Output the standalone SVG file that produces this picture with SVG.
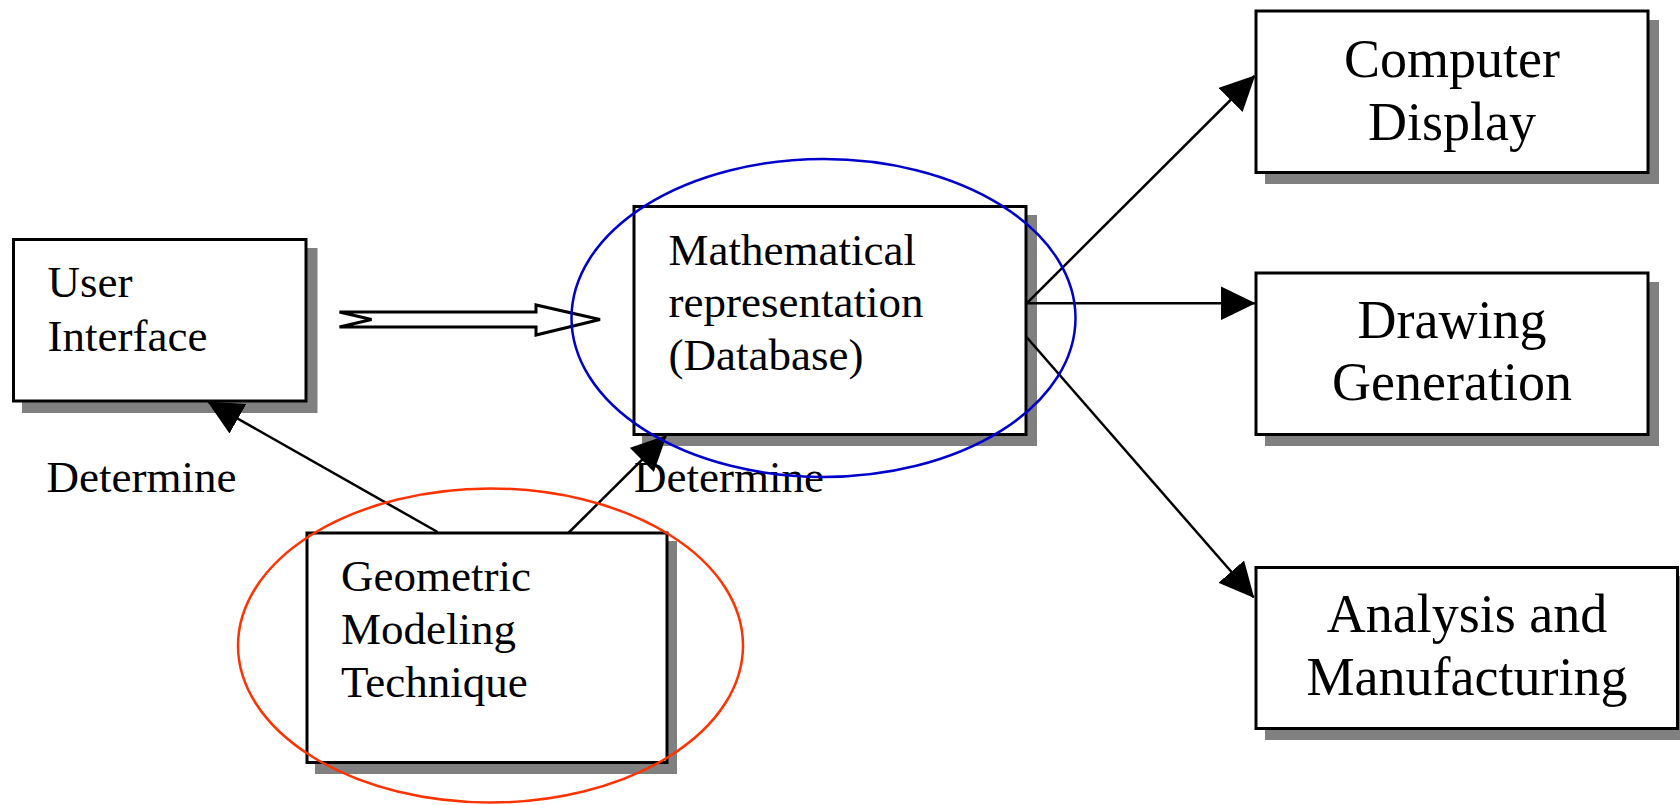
<svg xmlns="http://www.w3.org/2000/svg" width="1680" height="805" viewBox="0 0 1680 805">
<style>
.shadow{fill:#808080;stroke:none}
.box{fill:#ffffff;stroke:#000000;stroke-width:3}
.t{font-family:"Liberation Serif","Times New Roman",serif;font-size:45px;fill:#000000}
.tr{font-family:"Liberation Serif","Times New Roman",serif;font-size:54px;fill:#000000;text-anchor:middle}
.conn{stroke:#000000;stroke-width:2.5;fill:none}
.blk{fill:#ffffff;stroke:#000000;stroke-width:3;stroke-linejoin:miter}
</style>
<defs>
<marker id="ah" viewBox="0 0 35 34" refX="34" refY="17" markerWidth="35" markerHeight="34" markerUnits="userSpaceOnUse" orient="auto">
<path d="M0,0 L35,17 L0,34 Z" fill="#000000"/>
</marker>
</defs>
<rect width="1680" height="805" fill="#ffffff"/>
<g id="user-interface">
<rect class="shadow" x="22" y="248" width="295.5" height="165"/>
<rect class="box" x="13.5" y="239.5" width="292.5" height="161.5"/>
<text class="t" x="47.5" y="297">User</text>
<text class="t" x="47.5" y="350.5">Interface</text>
</g>
<g id="math-representation">
<rect class="shadow" x="642" y="215" width="395" height="231"/>
<rect class="box" x="634" y="206.5" width="392" height="228"/>
<text class="t" x="668.5" y="264.5">Mathematical</text>
<text class="t" x="668.5" y="317">representation</text>
<text class="t" x="668.5" y="370">(Database)</text>
</g>
<g id="geometric-modeling">
<rect class="shadow" x="315" y="541" width="362" height="233"/>
<rect class="box" x="307" y="533" width="360" height="229.5"/>
<text class="t" x="341" y="591">Geometric</text>
<text class="t" x="341" y="643.5">Modeling</text>
<text class="t" x="341" y="696.5">Technique</text>
</g>
<g id="computer-display">
<rect class="shadow" x="1265" y="20" width="394" height="164"/>
<rect class="box" x="1256" y="11" width="392" height="161.5"/>
<text class="tr" x="1452" y="77">Computer</text>
<text class="tr" x="1452" y="140">Display</text>
</g>
<g id="drawing-generation">
<rect class="shadow" x="1265" y="282" width="394" height="164"/>
<rect class="box" x="1256" y="273" width="392" height="161.5"/>
<text class="tr" x="1452" y="337.5">Drawing</text>
<text class="tr" x="1452" y="400">Generation</text>
</g>
<g id="analysis-manufacturing">
<rect class="shadow" x="1265" y="576" width="424" height="164"/>
<rect class="box" x="1256" y="567.5" width="421.5" height="161"/>
<text class="tr" x="1467" y="632">Analysis and</text>
<text class="tr" x="1467" y="695">Manufacturing</text>
</g>
<g id="labels">
<text class="t" x="46.5" y="492">Determine</text>
<text class="t" x="634" y="492">Determine</text>
</g>
<g id="connectors">
<polygon class="blk" points="339.5,312 536,312 536,305 600,319.5 536,335 536,327 339.5,327 371.5,319.5"/>
<line class="conn" x1="437.6" y1="532" x2="208.3" y2="402" marker-end="url(#ah)"/>
<line class="conn" x1="568.3" y1="533" x2="666" y2="436" marker-end="url(#ah)"/>
<line class="conn" x1="1026.7" y1="303.3" x2="1254.6" y2="76" marker-end="url(#ah)"/>
<line class="conn" x1="1026.7" y1="303.3" x2="1254.6" y2="303.3" marker-end="url(#ah)"/>
<line class="conn" x1="1026.7" y1="337.3" x2="1253.6" y2="597.3" marker-end="url(#ah)"/>
</g>
<g id="highlights">
<ellipse cx="823.5" cy="318" rx="252" ry="159" fill="none" stroke="#0000CC" stroke-width="2.5"/>
<ellipse cx="490.5" cy="645.5" rx="252.5" ry="157" fill="none" stroke="#FF3300" stroke-width="2.5"/>
</g>
</svg>
